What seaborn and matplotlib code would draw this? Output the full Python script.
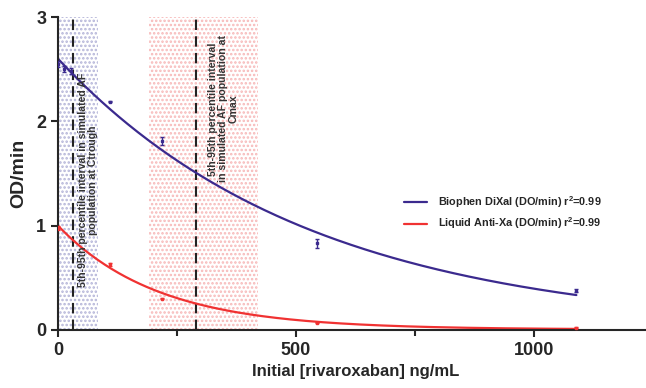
import numpy as np
import pandas as pd
import matplotlib
matplotlib.use("Agg")
import matplotlib.pyplot as plt
import seaborn as sns

# ---- data ----
blue_x = [0, 13.6, 27.3, 109, 218, 545, 1090]
blue_y = [2.55, 2.50, 2.48, 2.19, 1.81, 0.83, 0.375]
blue_err = [0.03, 0.03, 0.03, 0.005, 0.04, 0.04, 0.015]
red_x = [0, 109, 218, 545, 1090]
red_y = [0.98, 0.63, 0.30, 0.07, 0.02]
red_err = [0.02, 0.015, 0.005, 0.005, 0.005]

# fitted curve parameters (one-phase decay)
blue_fit = dict(y0=2.60, k=0.00188, plateau=0.0)
red_fit = dict(y0=1.00, k=0.00478, plateau=0.005)

ctrough_line = 32
cmax_line = 290
ctrough_band = (0, 85)
cmax_band = (192, 420)

labels = ["Biophen DiXal (DO/min) r$^{\\mathbf{2}}$=0.99",
          "Liquid Anti-Xa (DO/min) r$^{\\mathbf{2}}$=0.99"]
blue_c = "#3b2a8e"
red_c = "#f03232"

sns.set_style("ticks")
plt.rcParams['font.family'] = ['Liberation Sans', 'DejaVu Sans']
plt.rcParams['hatch.linewidth'] = 1.2
plt.rcParams['mathtext.fontset'] = 'custom'
plt.rcParams['mathtext.bf'] = 'Liberation Sans:bold'

fig = plt.figure(figsize=(6.46, 3.88), dpi=100)
ax = fig.add_axes([58/646, 1-330/388, 1-58/646 + 0.01, (330-17)/388])

# shaded bands
ax.axvspan(*ctrough_band, ymin=0, ymax=1, facecolor='none', edgecolor='#b4b4d8',
           hatch='....', linewidth=0)
ax.axvspan(*cmax_band, ymin=0, ymax=1, facecolor='none', edgecolor='#f7b8b8',
           hatch='....', linewidth=0)
ax.axvline(ctrough_line, color='#222222', ls=(0, (5, 3)), lw=1.5)
ax.axvline(cmax_line, color='#222222', ls=(0, (5, 3)), lw=1.5)

xx = np.linspace(0, 1090, 300)
def decay(x, p):
    return (p['y0'] - p['plateau']) * np.exp(-p['k'] * x) + p['plateau']

fit_df = pd.DataFrame({
    'x': np.concatenate([xx, xx]),
    'y': np.concatenate([decay(xx, blue_fit), decay(xx, red_fit)]),
    'assay': [labels[0]] * len(xx) + [labels[1]] * len(xx),
})
sns.lineplot(data=fit_df, x='x', y='y', hue='assay', palette=[blue_c, red_c],
             lw=1.6, ax=ax, legend=True)

ax.errorbar(blue_x, blue_y, yerr=blue_err, fmt='s', ms=1.8, color=blue_c,
            capsize=1.5, elinewidth=1, capthick=1, zorder=4)
ax.errorbar(red_x, red_y, yerr=red_err, fmt='s', ms=1.8, color=red_c,
            capsize=1.5, elinewidth=1, capthick=1, zorder=4)

# annotations
ax.text(64, 1.44, "5th-95th percentile interval in simulated AF\npopulation at Ctrough",
        rotation=90, ha='center', va='center', fontsize=7.6, fontweight='bold',
        color='#333333', linespacing=1.0)
ax.text(348, 2.12, "5th-95th percentile interval\nin simulated AF population at\nCmax",
        rotation=90, ha='center', va='center', fontsize=7.6, fontweight='bold',
        color='#333333', linespacing=1.0)

ax.set_xlim(0, 1250)
ax.set_ylim(0, 3)
ax.set_xticks([0, 500, 1000])
ax.set_xticks([250, 750], minor=True)
ax.set_yticks([0, 1, 2, 3])
ax.tick_params(axis='both', which='major', labelsize=13, width=1.5, length=5)
ax.tick_params(axis='x', which='minor', width=1.5, length=4)
for lab in ax.get_xticklabels() + ax.get_yticklabels():
    lab.set_fontweight('bold')
for s in ['left', 'bottom']:
    ax.spines[s].set_linewidth(1.5)
sns.despine(ax=ax)

ax.set_xlabel("Initial [rivaroxaban] ng/mL", fontsize=12, fontweight='bold')
ax.set_ylabel("OD/min", fontsize=14, fontweight='bold', labelpad=6)

leg = ax.legend(loc='center left', bbox_to_anchor=(0.565, 0.375), frameon=False,
                fontsize=7.8, handlelength=2.2, handletextpad=1.0,
                labelspacing=0.55, title=None)
for t in leg.get_texts():
    t.set_fontweight('bold')

fig.savefig("out.png", dpi=100)
